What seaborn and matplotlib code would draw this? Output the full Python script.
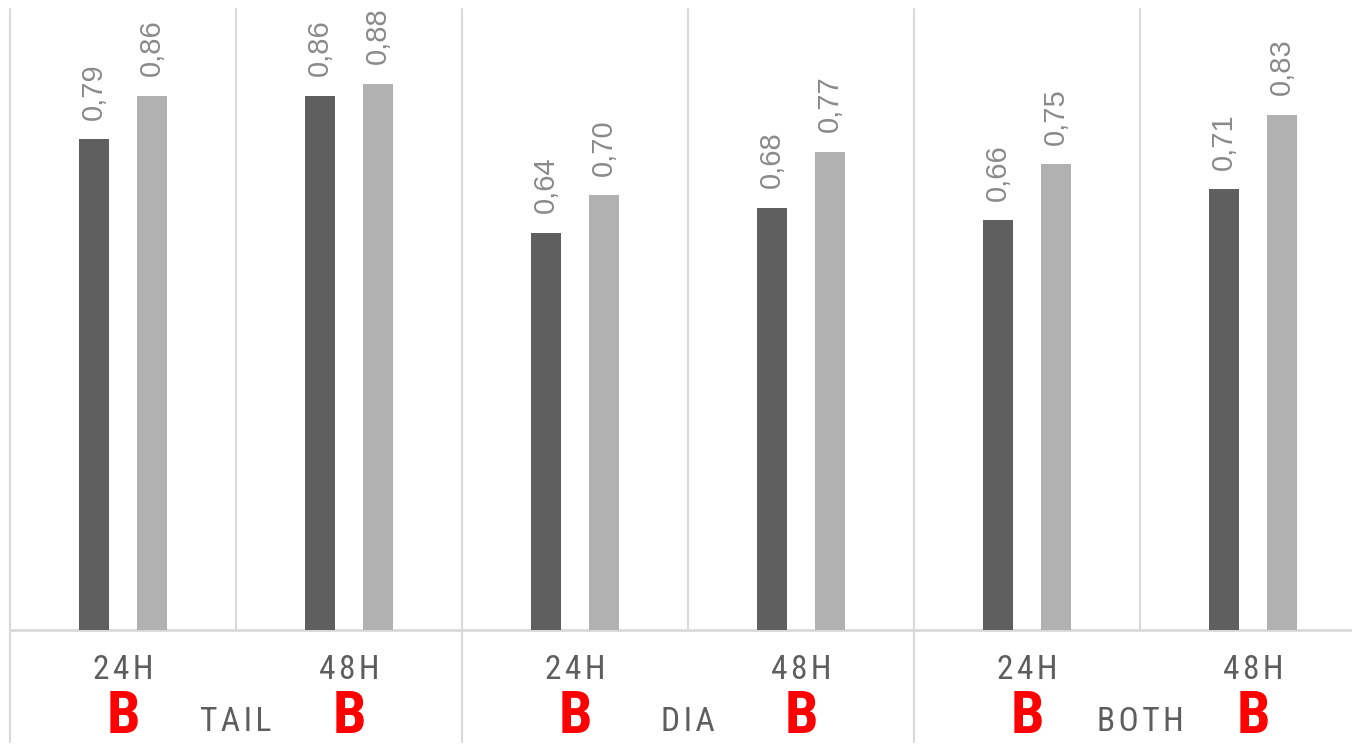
import matplotlib
matplotlib.use("Agg")
import matplotlib.pyplot as plt
import matplotlib.transforms as mtransforms
from matplotlib import font_manager as fm
import seaborn as sns
import pandas as pd

# ---- data ----
groups = ["TAIL", "DIA", "BOTH"]
times = ["24H", "48H"]
series_names = ["S1", "S2"]
series1 = [0.79, 0.86, 0.64, 0.68, 0.66, 0.71]   # dark bars
series2 = [0.86, 0.88, 0.70, 0.77, 0.75, 0.83]   # light bars
marks = ["B", "B", "B", "B", "B", "B"]

categories = [f"{g} {t}" for g in groups for t in times]
tick_labels = [t for g in groups for t in times]

df = pd.DataFrame({
    "cat": categories * 2,
    "series": [series_names[0]] * len(categories) + [series_names[1]] * len(categories),
    "value": series1 + series2,
})

sns.set_style("white")
avail = {f.name for f in fm.fontManager.ttflist}
narrow = "Liberation Sans Narrow" if "Liberation Sans Narrow" in avail else (
    "Roboto Condensed" if "Roboto Condensed" in avail else "Roboto")
regular = "Liberation Sans" if "Liberation Sans" in avail else "DejaVu Sans"
plt.rcParams["font.family"] = [regular, "DejaVu Sans"]

W, H = 1352, 746
fig = plt.figure(figsize=(W / 100, H / 100), dpi=100)
left_px, right_px, top_px, base_px = 10, 10 + 6 * 226, 9, 630
ax = fig.add_axes([left_px / W, (H - base_px) / H, (right_px - left_px) / W, (base_px - top_px) / H])

sns.barplot(data=df, x="cat", y="value", hue="series", order=categories,
            hue_order=series_names, palette=["#5f5f5f", "#b1b1b1"],
            width=0.513, gap=0.48, errorbar=None, linewidth=0, legend=False, ax=ax)

ax.set_ylim(0, 1.0)
ax.set_xlim(-0.5, len(categories) - 0.5)
for s in ax.spines.values():
    s.set_visible(False)
ax.set_yticks([])
ax.set_xlabel("")
ax.set_ylabel("")
ax.set_xticks(range(len(categories)))
ax.set_xticklabels([])
ax.tick_params(axis="x", length=0)

# value labels
for cont in ax.containers:
    vals = [r.get_height() for r in cont]
    ax.bar_label(cont, labels=[f"{v:.2f}".replace(".", ",") for v in vals],
                 rotation=90, padding=14, color="#8a8a8a", fontsize=21,
                 family=[regular, "DejaVu Sans"])

# grid / divider lines
trans = mtransforms.blended_transform_factory(ax.transData, ax.transAxes)
line_c = "#d9d9d9"
ax.axhline(0, color=line_c, lw=2, zorder=0, clip_on=False)
ax_h = base_px - top_px
below = -(742 - base_px) / ax_h
for i in range(len(categories)):
    x = i - 0.5
    if i % 2 == 1:
        ax.plot([x, x], [0, 1], color=line_c, lw=1.5, transform=trans, clip_on=False, zorder=0)
    else:
        ax.plot([x, x], [below, 1], color=line_c, lw=1.5, transform=trans, clip_on=False, zorder=0)

# tick labels, marks and group labels
y_tick = -(679 - base_px) / ax_h
y_mark = -(733 - base_px) / ax_h
y_grp = -(731 - base_px) / ax_h
for i, (lab, m) in enumerate(zip(tick_labels, marks)):
    ax.text(i, y_tick, "\u200a".join(lab), transform=trans, ha="center", va="baseline",
            fontsize=24, color="#5e5e5e", family=[narrow, "DejaVu Sans"])
    ax.text(i, y_mark, m, transform=trans, ha="center", va="baseline",
            fontsize=43, color="#ff0000", fontweight="bold", family=[narrow, "DejaVu Sans"])
for j, g in enumerate(groups):
    ax.text(2 * j + 0.5, y_grp, "\u200a".join(g), transform=trans, ha="center", va="baseline",
            fontsize=24, color="#5e5e5e", family=[narrow, "DejaVu Sans"])

fig.savefig("out.png", dpi=100)
